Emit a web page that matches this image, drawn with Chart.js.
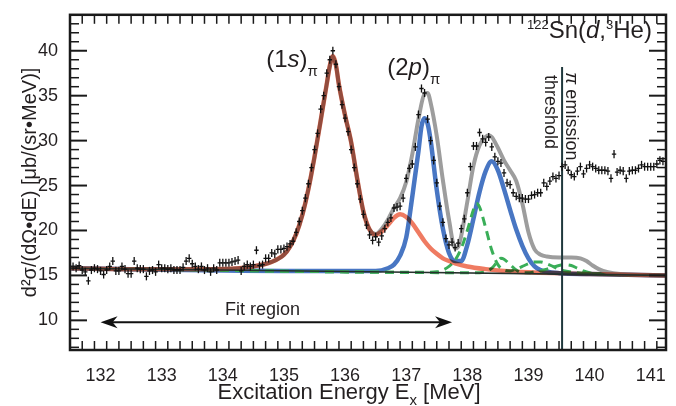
<!DOCTYPE html>
<html>
<head>
<meta charset="utf-8">
<script src="https://cdn.jsdelivr.net/npm/chart.js@4.4.0/dist/chart.umd.min.js"></script>
<style>
  body { margin: 0; background: #fff; }
</style>
</head>
<body>
<canvas id="myChart" width="676" height="406"></canvas>
<script>
// Measured spectrum, 0.05 MeV bins starting at 131.55 MeV
var binStart = 131.55;
var binWidth = 0.05;
var counts = [
  16.0, 15.8, 16.1, 15.6, 15.4, 14.4, 15.6, 15.8, 15.7,
  15.5, 15.1, 15.6, 16.0, 16.6, 15.5, 15.5, 16.0, 15.7, 15.2, 15.2, 16.6, 15.8, 15.7, 15.7, 14.9, 15.5, 15.6, 15.4, 16.2,
  15.8, 15.8, 15.7, 15.8, 15.6, 15.6, 15.6, 15.9, 16.6, 16.9, 16.3, 16.0, 15.7, 16.0, 15.6, 15.8, 15.4, 15.8, 15.6, 16.4,
  16.4, 16.4, 16.4, 16.5, 16.6, 16.7, 15.5, 16.0, 16.2, 16.0, 16.2, 17.8, 16.1, 16.2, 16.9, 16.9, 17.5, 17.4, 17.9, 17.9,
  18.0, 18.2, 18.5, 18.8, 19.8, 21.0, 22.2, 23.6, 25.2, 27.0, 29.0, 30.8, 33.5, 35.0, 37.5, 39.0, 40.0, 38.5, 36.0, 34.0,
  32.5, 31.0, 29.0, 27.0, 25.2, 23.5, 21.8, 20.6, 19.5, 18.9, 19.3, 18.7, 19.4, 20.2, 20.9, 21.4, 22.5, 22.6, 22.7, 23.6,
  25.8, 26.9, 27.4, 29.3, 32.9, 35.8, 35.3, 32.4, 30.0, 27.8, 25.3, 22.7, 20.9, 19.1, 18.4, 18.7, 18.1, 18.6, 20.2, 21.3,
  24.2, 27.1, 29.4, 29.4, 30.9, 30.2, 29.8, 30.4, 29.3, 28.2, 27.7, 27.5, 26.4, 25.3, 25.1, 24.2, 23.8, 23.6, 23.6, 23.5,
  23.5, 23.9, 24.0, 24.2, 24.2, 25.3, 24.9, 25.5, 26.0, 25.8, 26.1, 27.1, 27.3, 26.7, 26.2, 26.0, 26.6, 27.1, 26.3, 26.9,
  27.3, 27.1, 26.9, 26.7, 26.7, 26.7, 26.6, 25.8, 28.5, 26.5, 26.7, 26.6, 25.8, 26.6, 26.7, 26.7, 26.9, 27.3, 27.1, 27.1,
  27.1, 27.1, 27.4, 27.8, 27.7
];
var countErr = 0.45;

// Fit components (energy, value)
var redE = [131.5, 133.0, 134.0, 134.5, 134.8, 135.0, 135.1, 135.2, 135.3, 135.4, 135.5, 135.6, 135.7, 135.75, 135.8, 135.85, 135.9, 136.0, 136.1, 136.2, 136.3, 136.4, 136.5, 136.6, 136.7, 136.8, 136.9, 137.0, 137.1, 137.2, 137.3, 137.4, 137.5, 137.6, 137.7, 137.8, 138.0, 138.3, 138.6, 139.0, 140.0, 141.25];
var redY = [15.8, 15.68, 15.72, 16.0, 16.5, 17.3, 18.2, 19.6, 21.7, 24.6, 28.2, 32.2, 36.3, 38.3, 39.4, 38.4, 36.2, 32.8, 29.8, 25.7, 22.1, 20.1, 19.5, 19.9, 20.6, 21.4, 21.8, 21.5, 20.8, 19.8, 18.8, 18.0, 17.4, 16.9, 16.6, 16.35, 16.0, 15.7, 15.5, 15.35, 15.15, 15.0];

var totE = [131.5, 133.0, 134.0, 134.5, 134.8, 135.0, 135.1, 135.2, 135.3, 135.4, 135.5, 135.6, 135.7, 135.75, 135.8, 135.85, 135.9, 136.0, 136.1, 136.2, 136.3, 136.4, 136.5, 136.6, 136.7, 136.8, 136.9, 137.0, 137.1, 137.2, 137.3, 137.35, 137.4, 137.5, 137.6, 137.7, 137.8, 137.85, 137.9, 138.0, 138.1, 138.2, 138.3, 138.35, 138.4, 138.5, 138.6, 138.7, 138.8, 138.9, 139.0, 139.1, 139.2, 139.3, 139.5, 139.7, 139.85, 139.95, 140.05, 140.15, 140.3, 140.5, 141.25];
var totY = [15.8, 15.68, 15.72, 16.0, 16.5, 17.3, 18.2, 19.6, 21.7, 24.6, 28.2, 32.2, 36.3, 38.3, 39.4, 38.4, 36.2, 32.8, 29.8, 25.7, 22.1, 20.1, 19.6, 20.2, 21.2, 22.5, 23.6, 25.4, 28.5, 32.4, 35.2, 35.3, 34.2, 30.5, 25.6, 21.2, 18.0, 18.2, 19.4, 23.2, 27.2, 29.5, 30.4, 30.6, 30.4, 29.2, 27.8, 26.7, 25.5, 23.0, 19.8, 17.9, 17.3, 17.1, 17.0, 17.0, 16.9, 16.6, 16.1, 15.7, 15.35, 15.15, 15.0];

var blueE = [131.5, 135.0, 136.5, 136.7, 136.8, 136.9, 137.0, 137.1, 137.2, 137.25, 137.3, 137.35, 137.4, 137.5, 137.6, 137.7, 137.8, 137.9, 138.0, 138.1, 138.2, 138.3, 138.4, 138.5, 138.6, 138.7, 138.8, 138.9, 139.0, 139.1, 139.2, 139.3, 139.5, 140.0, 141.25];
var blueY = [15.8, 15.5, 15.5, 15.8, 16.2, 17.2, 19.2, 23.8, 28.8, 31.6, 32.5, 31.9, 30.0, 24.5, 20.2, 17.5, 16.6, 16.6, 18.4, 21.3, 24.3, 26.6, 27.7, 26.7, 24.6, 22.3, 20.1, 18.3, 16.9, 16.0, 15.6, 15.4, 15.25, 15.15, 15.0];

var greenAE = [131.5, 137.4, 137.5, 137.6, 137.7, 137.8, 137.9, 138.0, 138.1, 138.15, 138.2, 138.3, 138.4, 138.5, 138.6, 138.7, 138.8, 138.9, 139.0, 139.1, 139.2, 139.3, 139.4, 139.5, 139.6, 139.8, 140.0, 141.25];
var greenAY = [15.8, 15.35, 15.4, 15.6, 16.0, 16.7, 18.0, 20.0, 22.3, 23.0, 22.6, 20.3, 17.8, 16.2, 15.6, 15.5, 15.7, 16.0, 16.3, 16.5, 16.5, 16.3, 16.0, 15.7, 15.5, 15.3, 15.2, 15.0];

var greenBE = [131.5, 138.2, 138.3, 138.4, 138.5, 138.55, 138.6, 138.7, 138.8, 138.9, 139.0, 139.1, 139.2, 139.3, 139.4, 139.5, 139.6, 139.7, 139.8, 139.9, 140.0, 140.2, 141.25];
var greenBY = [15.8, 15.3, 15.4, 15.8, 16.6, 16.9, 16.8, 16.2, 15.6, 15.3, 15.3, 15.4, 15.5, 15.7, 15.9, 16.1, 16.2, 16.1, 15.8, 15.5, 15.3, 15.15, 15.0];

var bgE = [131.5, 141.25];
var bgY = [15.8, 15.0];

// Pion emission threshold (MeV) and fit region (MeV)
var thresholdE = 139.55;
var fitRegion = [132.0, 137.75];

var xTicks = [132, 133, 134, 135, 136, 137, 138, 139, 140, 141];
var yTicks = [10, 15, 20, 25, 30, 35, 40];

var FONT = '"Liberation Sans", Arial, Helvetica, sans-serif';
var INK = '#231f20';

function pts(xs, ys) {
  return xs.map(function(x, i) { return { x: x, y: ys[i] }; });
}

var dataPts = counts.map(function(v, i) {
  return { x: +(binStart + i * binWidth).toFixed(2), y: v };
});

// draws text pieces with different fonts one after another
function drawRich(ctx, parts, x, y, align) {
  var w = 0;
  parts.forEach(function(p) {
    ctx.font = (p.style || '') + ' ' + p.size + 'px ' + FONT;
    w += ctx.measureText(p.t).width;
  });
  var cx = align === 'right' ? x - w : (align === 'center' ? x - w / 2 : x);
  ctx.textAlign = 'left';
  ctx.textBaseline = 'alphabetic';
  parts.forEach(function(p) {
    ctx.font = (p.style || '') + ' ' + p.size + 'px ' + FONT;
    ctx.fillText(p.t, cx, y + (p.dy || 0));
    cx += ctx.measureText(p.t).width;
  });
}

const spectrumPlugin = {
  id: 'spectrumPlugin',
  beforeDatasetDraw(chart, args) {
    if (chart.data.datasets[args.index].multiply) {
      chart.ctx.save();
      chart.ctx.globalCompositeOperation = 'multiply';
    }
  },
  afterDatasetDraw(chart, args) {
    if (chart.data.datasets[args.index].multiply) chart.ctx.restore();
  },
  afterDatasetsDraw(chart) {
    // error bars of the measured points
    const ctx = chart.ctx;
    const ys = chart.scales.y;
    const meta = chart.getDatasetMeta(0);
    ctx.save();
    ctx.strokeStyle = '#111';
    ctx.lineWidth = 1.3;
    meta.data.forEach(function(el, i) {
      ctx.beginPath();
      ctx.moveTo(el.x, ys.getPixelForValue(counts[i] - countErr));
      ctx.lineTo(el.x, ys.getPixelForValue(counts[i] + countErr));
      ctx.stroke();
    });
    ctx.restore();
  },
  afterDraw(chart) {
    const ctx = chart.ctx;
    const a = chart.chartArea;
    const xs = chart.scales.x, ys = chart.scales.y;
    ctx.save();

    // inward ticks on all four sides
    ctx.strokeStyle = '#1a1a1a';
    function tick(x1, y1, x2, y2, w) {
      ctx.lineWidth = w;
      ctx.beginPath(); ctx.moveTo(x1, y1); ctx.lineTo(x2, y2); ctx.stroke();
    }
    for (var k = 1315; k <= 1412; k += 2) {
      var v = k / 10;
      if (v < xs.min || v > xs.max) continue;
      var major = (k % 10 === 0);
      var len = major ? 17 : 9;
      var px = xs.getPixelForValue(v);
      tick(px, a.bottom, px, a.bottom - len, major ? 2 : 1.5);
      tick(px, a.top, px, a.top + len, major ? 2 : 1.5);
    }
    for (var j = 7; j <= 44; j++) {
      var majorY = (j % 5 === 0);
      var lenY = majorY ? 17 : 9;
      var py = ys.getPixelForValue(j);
      tick(a.left, py, a.left + lenY, py, majorY ? 2 : 1.5);
      tick(a.right, py, a.right - lenY, py, majorY ? 2 : 1.5);
    }
    ctx.lineWidth = 2.5;
    ctx.strokeRect(a.left, a.top, a.right - a.left, a.bottom - a.top);

    ctx.fillStyle = INK;

    // axis titles
    drawRich(ctx, [
      { t: 'Excitation Energy E', size: 22 },
      { t: 'x', size: 15, dy: 6 },
      { t: ' [MeV]', size: 22 }
    ], 349, 399, 'center');

    ctx.save();
    ctx.translate(29, (a.top + a.bottom) / 2);
    ctx.rotate(-Math.PI / 2);
    drawRich(ctx, [{ t: 'd²σ/(dΩ•dE) [μb/(sr•MeV)]', size: 20 }], 0, 7, 'center');
    ctx.restore();

    // peak labels
    drawRich(ctx, [
      { t: '(1', size: 24 }, { t: 's', size: 24, style: 'italic' }, { t: ')', size: 24 },
      { t: 'π', size: 15, dy: 9 }
    ], xs.getPixelForValue(134.71), ys.getPixelForValue(38.2), 'left');
    drawRich(ctx, [
      { t: '(2', size: 24 }, { t: 'p', size: 24, style: 'italic' }, { t: ')', size: 24 },
      { t: 'π', size: 15, dy: 9 }
    ], xs.getPixelForValue(136.69), ys.getPixelForValue(37.3), 'left');

    // reaction
    drawRich(ctx, [
      { t: '122', size: 13, dy: -9 }, { t: 'Sn(', size: 24 }, { t: 'd', size: 24, style: 'italic' },
      { t: ',', size: 24 }, { t: '3', size: 13, dy: -9 }, { t: 'He)', size: 24 }
    ], xs.getPixelForValue(141.02), ys.getPixelForValue(41.4), 'right');

    // threshold texts, rotated
    ctx.save();
    ctx.translate(xs.getPixelForValue(139.27), ys.getPixelForValue(37.3));
    ctx.rotate(Math.PI / 2);
    drawRich(ctx, [{ t: 'threshold', size: 18 }], 0, 0, 'left');
    ctx.restore();
    ctx.save();
    ctx.translate(xs.getPixelForValue(139.61), ys.getPixelForValue(37.6));
    ctx.rotate(Math.PI / 2);
    drawRich(ctx, [{ t: 'π', size: 18, style: 'italic' }, { t: ' emission', size: 18 }], 0, 0, 'left');
    ctx.restore();

    // fit region arrow
    var x1 = xs.getPixelForValue(fitRegion[0]);
    var x2 = xs.getPixelForValue(fitRegion[1]);
    var ay = ys.getPixelForValue(9.8);
    ctx.strokeStyle = '#111';
    ctx.lineWidth = 2;
    ctx.beginPath(); ctx.moveTo(x1 + 8, ay); ctx.lineTo(x2 - 8, ay); ctx.stroke();
    ctx.fillStyle = '#111';
    [[x1, 1], [x2, -1]].forEach(function(h) {
      ctx.beginPath();
      ctx.moveTo(h[0], ay);
      ctx.lineTo(h[0] + h[1] * 17, ay - 6);
      ctx.lineTo(h[0] + h[1] * 12, ay);
      ctx.lineTo(h[0] + h[1] * 17, ay + 6);
      ctx.closePath();
      ctx.fill();
    });
    ctx.fillStyle = INK;
    drawRich(ctx, [{ t: 'Fit region', size: 18 }], xs.getPixelForValue(134.65), ys.getPixelForValue(10.65), 'center');

    ctx.restore();
  }
};

var ctx = document.getElementById('myChart').getContext('2d');

var curve = function(label, data, color, width, extra) {
  return Object.assign({
    label: label,
    data: data,
    showLine: true,
    borderColor: color,
    borderWidth: width,
    pointRadius: 0,
    cubicInterpolationMode: 'monotone',
    fill: false
  }, extra || {});
};

// first dataset is drawn on top
var myChart = new Chart(ctx, {
  type: 'scatter',
  data: {
    datasets: [
      {
        label: 'data',
        data: dataPts,
        pointStyle: 'line',
        pointRadius: 2.2,
        borderColor: '#111',
        borderWidth: 1.3,
        showLine: false
      },
      curve('threshold', [{ x: thresholdE, y: 38.2 }, { x: thresholdE, y: 6.7 }], '#1f383c', 2, { cubicInterpolationMode: 'default', tension: 0 }),
      curve('background', pts(bgE, bgY), '#25302c', 1.6),
      curve('(1s)', pts(redE, redY), '#ef7b62', 4.5, { multiply: true }),
      curve('total', pts(totE, totY), '#9d9d9d', 4),
      curve('other A', pts(greenAE, greenAY), '#3aae58', 3, { borderDash: [9, 6] }),
      curve('other B', pts(greenBE, greenBY), '#3aae58', 3, { borderDash: [9, 6] }),
      curve('(2p)', pts(blueE, blueY), '#4876c3', 4.5)
    ]
  },
  options: {
    responsive: false,
    animation: false,
    layout: { padding: { top: 8, right: 10, left: 0, bottom: 0 } },
    plugins: { legend: { display: false }, tooltip: { enabled: false } },
    scales: {
      x: {
        type: 'linear',
        min: 131.5,
        max: 141.25,
        afterBuildTicks: function(s) { s.ticks = xTicks.map(function(v) { return { value: v }; }); },
        afterFit: function(s) { s.height = 56; },
        grid: { display: false },
        border: { display: false },
        ticks: { color: INK, font: { family: FONT, size: 18 }, padding: 7, maxRotation: 0, autoSkip: false }
      },
      y: {
        type: 'linear',
        min: 6.7,
        max: 44,
        afterBuildTicks: function(s) { s.ticks = yTicks.map(function(v) { return { value: v }; }); },
        afterFit: function(s) { s.width = 70; },
        grid: { display: false },
        border: { display: false },
        ticks: { color: INK, font: { family: FONT, size: 18 }, padding: 4, autoSkip: false }
      }
    }
  },
  plugins: [spectrumPlugin]
});
</script>
</body>
</html>
